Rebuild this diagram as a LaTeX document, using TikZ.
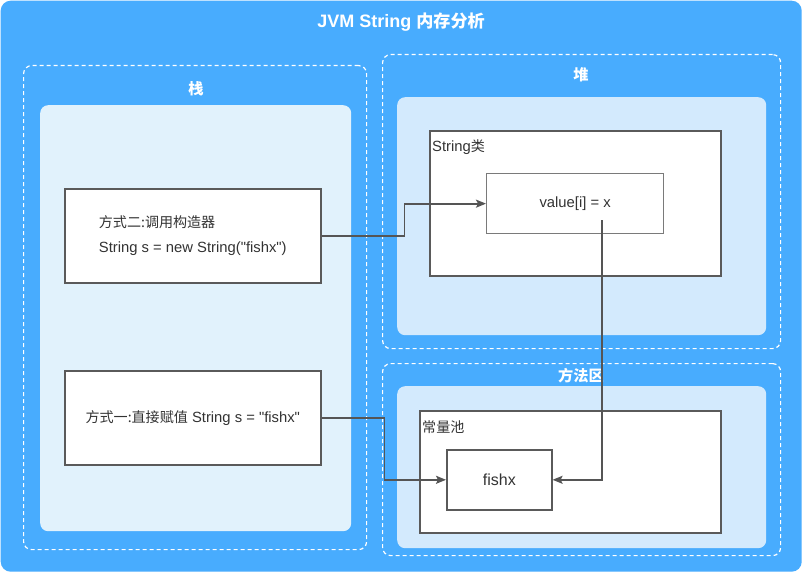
\documentclass[tikz,border=0pt]{standalone}
\usepackage{fontspec}
\newfontfamily\cjk{Noto Sans CJK SC}[Scale=0.95]
\newfontfamily\latin{Liberation Sans}
\usetikzlibrary{arrows.meta}
\definecolor{bgblue}{HTML}{48ACFE}
\definecolor{stackfill}{HTML}{E1F2FC}
\definecolor{heapfill}{HTML}{D3EAFD}
\definecolor{linegray}{HTML}{555555}
\definecolor{boxgray}{HTML}{5A5A5A}
\definecolor{valgray}{HTML}{7A7A7A}
\definecolor{txt}{HTML}{333333}
\tikzset{
  region/.style={draw=white, dashed, dash pattern=on 4pt off 3pt, line width=1.2pt, rounded corners=8pt, anchor=north west, inner sep=0pt},
  panel/.style={rounded corners=8pt, anchor=north west, inner sep=0pt},
  whitebox/.style={draw=boxgray, fill=white, line width=1.6pt, anchor=north west, inner sep=0pt},
  sectlabel/.style={text=white, font=\fontsize{16}{18}\selectfont\cjk\bfseries},
  boxtext/.style={text=txt, font=\fontsize{14.8}{25}\selectfont\latin},
  conn/.style={draw=linegray, line width=1.7pt, -{Stealth[length=10pt,width=8pt,inset=2pt]}}
}
\begin{document}
\begin{tikzpicture}[x=1pt,y=-1pt]
\useasboundingbox (0,0) rectangle (802,572);
\fill[white] (0,0) rectangle (802,572);
\node[fill=bgblue, rounded corners=10pt, anchor=north west, inner sep=0pt, minimum width=801pt, minimum height=571pt] (bg) at (0.5,0.5) {};
\node[text=white, font=\fontsize{18}{20}\selectfont\latin\bfseries] (title) at (401,22) {JVM String {\cjk\bfseries 内存分析}};

% stack
\node[region, minimum width=343pt, minimum height=484pt] (stack) at (23,65) {};
\node[panel, fill=stackfill, minimum width=311pt, minimum height=426pt] (stackin) at (40,105) {};
\node[sectlabel] (stacklbl) at (196,89) {栈};

% heap
\node[region, minimum width=398pt, minimum height=294pt] (heap) at (382,54) {};
\node[panel, fill=heapfill, minimum width=369pt, minimum height=238pt] (heapin) at (397,97) {};
\node[sectlabel] (heaplbl) at (581,75) {堆};

% method area
\node[region, minimum width=398pt, minimum height=192pt] (meth) at (382,363) {};
\node[panel, fill=heapfill, minimum width=369pt, minimum height=162pt] (methin) at (397,386) {};
\node[sectlabel] (methlbl) at (581,376) {方法区};

% heap content
\node[whitebox, minimum width=291pt, minimum height=145pt] (strcls) at (429,130) {};
\node[boxtext, anchor=west, inner sep=0pt] (strlbl) at (432,147) {String{\cjk 类}};
\node[whitebox, draw=valgray, line width=1.3pt, minimum width=177pt, minimum height=60pt] (val) at (486,173) {};
\node[boxtext] (valtxt) at (val.center) {value[i] = x};

% constant pool
\node[whitebox, minimum width=301pt, minimum height=122pt] (pool) at (419,410) {};
\node[boxtext, anchor=west, inner sep=0pt] (poollbl) at (422,427) {\cjk 常量池};
\node[whitebox, minimum width=105pt, minimum height=60pt] (fishx) at (446,449) {};
\node[text=txt, font=\fontsize{16}{18}\selectfont\latin] (fishxtxt) at (fishx.center) {fishx};

% stack boxes
\node[whitebox, minimum width=256pt, minimum height=94pt] (m2) at (64,188) {};
\node[boxtext, align=left] (m2txt) at (m2.center) {{\cjk 方式二:调用构造器}\\String s = new String("fishx")};
\node[whitebox, minimum width=256pt, minimum height=94pt] (m1) at (64,370) {};
\node[boxtext] (m1txt) at (m1.center) {{\cjk 方式一:直接赋值} String s = "fishx"};

% connectors
\coordinate (vs) at (602,220);
\draw[conn] (m2.east) -- ++(83,0) |- (val.west);
\draw[conn] (m1.east) -- ++(63,0) |- (fishx.west);
\draw[conn] (vs) |- (fishx.east);
\end{tikzpicture}
\end{document}
